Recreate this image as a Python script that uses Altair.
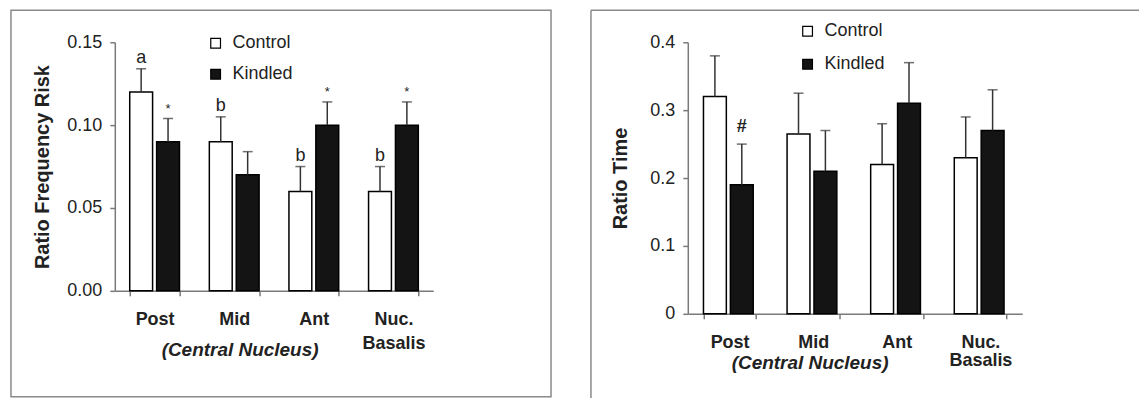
import altair as alt
import pandas as pd

FONT = "Liberation Sans"
TEXT = "#222222"
AXIS = "#7a7a7a"
FRAME = "#8a8a8a"

regions = ["Post", "Mid", "Ant", "Nuc. Basalis"]
groups = ["Control", "Kindled"]

# Risk assessment frequency ratio: means, SEM and significance marks
freq_control = [0.12, 0.09, 0.06, 0.06]
freq_control_sem = [0.014, 0.015, 0.015, 0.015]
freq_kindled = [0.09, 0.07, 0.10, 0.10]
freq_kindled_sem = [0.014, 0.014, 0.014, 0.014]
freq_control_sig = ["a", "b", "b", "b"]
freq_kindled_sig = ["*", "", "*", "*"]
freq_ticks = [0, 0.05, 0.10, 0.15]

# Time ratio: means, SEM and significance marks
time_control = [0.32, 0.265, 0.22, 0.23]
time_control_sem = [0.06, 0.06, 0.06, 0.06]
time_kindled = [0.19, 0.21, 0.31, 0.27]
time_kindled_sem = [0.06, 0.06, 0.06, 0.06]
time_control_sig = ["", "", "", ""]
time_kindled_sig = ["#", "", "", ""]
time_ticks = [0, 0.1, 0.2, 0.3, 0.4]


def table(ctrl, ctrl_sem, kind, kind_sem, ctrl_sig, kind_sig):
    rows = []
    for i, r in enumerate(regions):
        rows.append(dict(region=r, group="Control", value=ctrl[i],
                         upper=ctrl[i] + ctrl_sem[i], sig=ctrl_sig[i]))
        rows.append(dict(region=r, group="Kindled", value=kind[i],
                         upper=kind[i] + kind_sem[i], sig=kind_sig[i]))
    return pd.DataFrame(rows)


def panel(df, width, height, y_title, ticks, fmt, y_title_x,
          x_title_x, x_title_y, line_height, legend_x, legend_y, legend_gap,
          sig_dy, sig_weight):
    x = alt.X(
        "region:N", sort=regions,
        scale=alt.Scale(paddingInner=0.375, paddingOuter=0.1875),
        axis=alt.Axis(
            title="(Central Nucleus)", titleX=x_title_x, titleY=x_title_y,
            titleAlign="center", titleBaseline="middle",
            titleFont=FONT, titleFontSize=19, titleFontStyle="italic",
            titleFontWeight="bold", titleColor=TEXT,
            labelAngle=0, labelFont=FONT, labelFontSize=18,
            labelFontWeight="bold", labelColor=TEXT, labelPadding=15,
            labelLineHeight=line_height,
            labelExpr="datum.label == 'Nuc. Basalis' ? ['Nuc.', 'Basalis'] : datum.label",
            tickBand="extent", tickSize=5, tickWidth=1.5, tickColor=AXIS,
            domainColor=AXIS, domainWidth=1.5,
        ),
    )
    xo = alt.XOffset("group:N", sort=groups, scale=alt.Scale(paddingInner=0.15))
    y_scale = alt.Scale(domain=[ticks[0], ticks[-1]], nice=False)
    y = alt.Y(
        "value:Q", scale=y_scale,
        axis=alt.Axis(
            title=y_title, values=ticks, format=fmt, grid=False,
            titleX=y_title_x, titleY=height / 2, titleAlign="center",
            titleBaseline="middle", titleAngle=270,
            titleFont=FONT, titleFontSize=20, titleFontWeight="bold",
            titleColor=TEXT,
            labelFont=FONT, labelFontSize=18, labelColor=TEXT, labelPadding=8,
            tickSize=5, tickWidth=1.5, tickColor=AXIS,
            domainColor=AXIS, domainWidth=1.5,
        ),
    )
    base = alt.Chart(df)
    bars = base.mark_bar(stroke="black", strokeWidth=1.5).encode(
        x=x, xOffset=xo, y=y,
        fill=alt.Fill(
            "group:N", sort=groups,
            scale=alt.Scale(domain=groups, range=["white", "#141414"]),
            legend=alt.Legend(
                orient="none", legendX=legend_x, legendY=legend_y, title=None,
                symbolType="square", symbolSize=95, symbolStrokeColor="black",
                symbolStrokeWidth=1.2, labelFont=FONT, labelFontSize=18,
                labelColor=TEXT, labelOffset=8, rowPadding=legend_gap,
            ),
        ),
    )
    err = base.mark_rule(color="#333333", strokeWidth=1.5).encode(
        x=x, xOffset=xo, y=alt.Y("value:Q", scale=y_scale), y2="upper:Q"
    )
    caps = base.mark_tick(color="#333333", thickness=1.5, size=10).encode(
        x=x, xOffset=xo, y=alt.Y("upper:Q", scale=y_scale)
    )
    sig = base.mark_text(font=FONT, color=TEXT, baseline="alphabetic",
                         dy=sig_dy, fontWeight=sig_weight).encode(
        x=x, xOffset=xo, y=alt.Y("upper:Q", scale=y_scale),
        text="sig:N",
        size=alt.condition("datum.sig == '*'", alt.value(13), alt.value(18)),
    )
    return alt.layer(bars, err, caps, sig).properties(width=width, height=height)


one = alt.Data(values=[{"k": 0}])

freq_df = table(freq_control, freq_control_sem, freq_kindled, freq_kindled_sem,
                freq_control_sig, freq_kindled_sig)
time_df = table(time_control, time_control_sem, time_kindled, time_kindled_sem,
                time_control_sig, time_kindled_sig)

left = panel(freq_df, 319, 249, "Ratio Frequency Risk", freq_ticks, ".2f",
             -72, 125, 59, 24, 92, -8, 13, -6, "normal")
left_frame = alt.Chart(one).mark_rect(
    fill="transparent", stroke=FRAME, strokeWidth=1.5
).encode(x=alt.value(-104), x2=alt.value(437), y=alt.value(-32), y2=alt.value(355))
left = alt.layer(left_frame, left).properties(width=319, height=249)

right = panel(time_df, 335, 272, "Ratio Time", time_ticks, "~g",
              -67, 122, 49, 18, 111, -20, 15, -12, "bold")
right_top = alt.Chart(one).mark_rule(color=FRAME, strokeWidth=1.5).encode(
    x=alt.value(-97), x2=alt.value(452), y=alt.value(-32)
)
right_side = alt.Chart(one).mark_rule(color=FRAME, strokeWidth=1.5).encode(
    x=alt.value(-97), y=alt.value(-32), y2=alt.value(357)
)
right = alt.layer(right_top, right_side, right).properties(width=335, height=272)

chart = (
    alt.hconcat(left, right, spacing=255, bounds="flush")
    .resolve_scale(fill="independent")
    .resolve_legend(fill="independent")
    .properties(padding={"left": 9, "top": 8, "right": 0, "bottom": 0},
                background="white")
    .configure_view(stroke="transparent")
)

chart.save("out.html", embed_options={"renderer": "svg", "actions": False})
